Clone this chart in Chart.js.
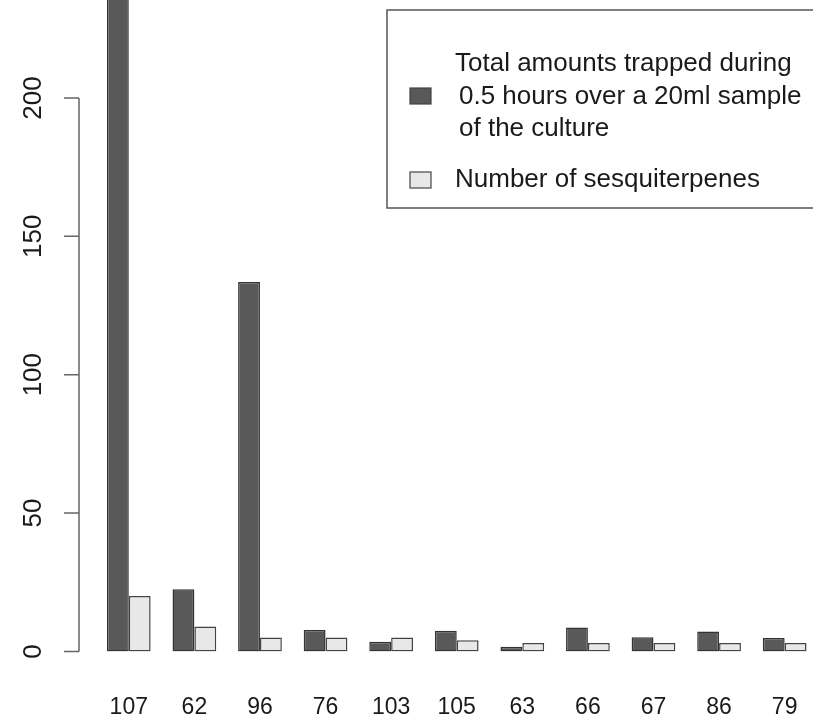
<!DOCTYPE html>
<html>
<head>
<meta charset="utf-8">
<script src="https://cdn.jsdelivr.net/npm/chart.js@4.4.1/dist/chart.umd.min.js"></script>
<style>
  html, body { margin: 0; padding: 0; background: #fff; overflow: hidden; }
  #wrap { width: 840px; height: 763px; }
</style>
</head>
<body>
<div id="wrap"><canvas id="barChart" width="840" height="763"></canvas></div>
<script>
const categories = ['107', '62', '96', '76', '103', '105', '63', '66', '67', '86', '79'];
const totalAmounts = [260, 22.5, 133.5, 7.7, 3.5, 7.5, 1.7, 8.6, 5.1, 7.2, 4.8];
const sesquiterpenes = [20, 9, 5, 5, 5, 4, 3, 3, 3, 3, 3];
const yTicks = [0, 50, 100, 150, 200];

const totalLabel = ['Total amounts trapped during', '0.5 hours over a 20ml sample', 'of the culture'];
const countLabel = ['Number of sesquiterpenes'];

const FONT = '"Liberation Sans", Arial, Helvetica, sans-serif';

// R style y axis: line only from first to last tick, rotated labels
const rAxis = {
  id: 'rAxis',
  afterDraw(chart) {
    const ctx = chart.ctx;
    const y = chart.scales.y;
    const x0 = chart.chartArea.left - 17;
    ctx.save();
    ctx.strokeStyle = '#666';
    ctx.lineWidth = 1.5;
    ctx.beginPath();
    ctx.moveTo(x0, y.getPixelForValue(yTicks[0]));
    ctx.lineTo(x0, y.getPixelForValue(yTicks[yTicks.length - 1]));
    yTicks.forEach(v => {
      const py = y.getPixelForValue(v);
      ctx.moveTo(x0, py);
      ctx.lineTo(x0 - 15, py);
    });
    ctx.stroke();
    ctx.fillStyle = '#1a1a1a';
    ctx.font = '26px ' + FONT;
    ctx.textAlign = 'center';
    ctx.textBaseline = 'middle';
    yTicks.forEach(v => {
      ctx.save();
      ctx.translate(x0 - 46, y.getPixelForValue(v));
      ctx.rotate(-Math.PI / 2);
      ctx.fillText(String(v), 0, 1);
      ctx.restore();
    });
    ctx.restore();
  }
};

// boxed legend in the top right corner
const rLegend = {
  id: 'rLegend',
  afterDraw(chart) {
    const ctx = chart.ctx;
    const ds = chart.data.datasets;
    ctx.save();
    ctx.fillStyle = '#fff';
    ctx.fillRect(387, 10, 470, 198);
    ctx.strokeStyle = '#555';
    ctx.lineWidth = 1.5;
    ctx.strokeRect(387, 10, 470, 198);

    const rows = [
      { lines: ds[0].label, ys: [64, 97, 129], box: 96, xs: [455, 459, 459] },
      { lines: ds[1].label, ys: [180], box: 180, xs: [455] }
    ];
    ctx.font = '26px ' + FONT;
    ctx.textBaseline = 'middle';
    rows.forEach((r, i) => {
      ctx.fillStyle = ds[i].backgroundColor;
      ctx.fillRect(410, r.box - 8, 21, 16);
      ctx.strokeStyle = '#444';
      ctx.lineWidth = 1.2;
      ctx.strokeRect(410, r.box - 8, 21, 16);
      ctx.fillStyle = '#1a1a1a';
      r.lines.forEach((t, k) => ctx.fillText(t, r.xs[k], r.ys[k]));
    });
    ctx.restore();
  }
};

new Chart(document.getElementById('barChart'), {
  type: 'bar',
  data: {
    labels: categories,
    datasets: [
      {
        label: totalLabel,
        data: totalAmounts,
        backgroundColor: '#595959',
        borderColor: '#333',
        borderWidth: 1.5,
        borderSkipped: false,
        categoryPercentage: 2 / 3,
        barPercentage: 1
      },
      {
        label: countLabel,
        data: sesquiterpenes,
        backgroundColor: '#e8e8e8',
        borderColor: '#444',
        borderWidth: 1.5,
        borderSkipped: false,
        categoryPercentage: 2 / 3,
        barPercentage: 1
      }
    ]
  },
  options: {
    responsive: false,
    animation: false,
    layout: { padding: { left: 96, right: 12, top: 0, bottom: 0 } },
    plugins: {
      legend: { display: false },
      tooltip: { enabled: false }
    },
    scales: {
      x: {
        grid: { display: false, drawTicks: false },
        border: { display: false },
        ticks: {
          color: '#1a1a1a',
          font: { family: FONT, size: 23 },
          padding: 42
        }
      },
      y: {
        display: false,
        min: 0,
        max: 235.4
      }
    }
  },
  plugins: [rAxis, rLegend]
});
</script>
</body>
</html>
